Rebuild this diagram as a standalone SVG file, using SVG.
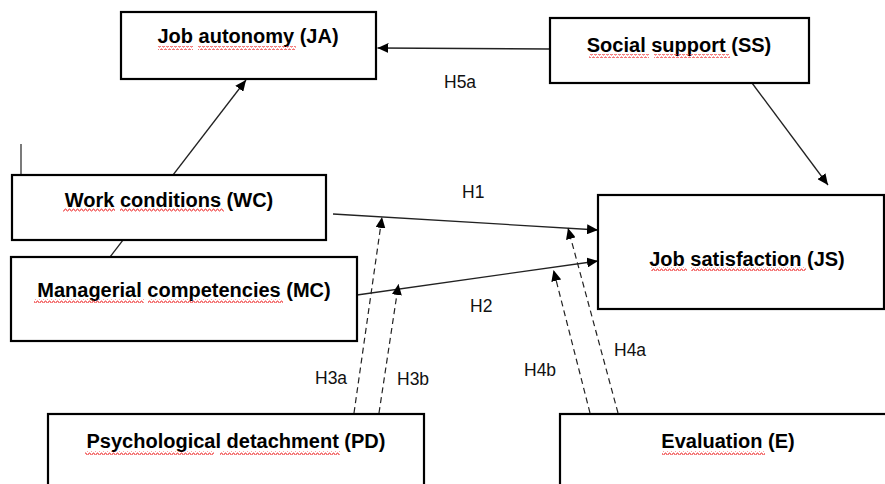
<svg xmlns="http://www.w3.org/2000/svg" width="885" height="484" viewBox="0 0 885 484">
<style>
.box{fill:#fff;stroke:#000;stroke-width:2.2}
.t{font-family:"Liberation Sans",Arial,sans-serif;font-weight:bold;font-size:20px;fill:#000;text-anchor:middle}
.lbl{font-family:"Liberation Sans",Arial,sans-serif;font-size:17.5px;fill:#111}
.c{stroke:#222;stroke-width:1.3;fill:none;marker-end:url(#ah)}
.d{stroke:#222;stroke-width:1.2;fill:none;stroke-dasharray:6,4;marker-end:url(#ah)}
.sq{fill:url(#wavy)}
</style>
<defs>
<marker id="ah" markerUnits="userSpaceOnUse" markerWidth="12" markerHeight="10" refX="11" refY="5" orient="auto">
<path d="M0,0 L11,5 L0,10 z" fill="#000"/>
</marker>
<pattern id="wavy" width="4" height="4" patternUnits="userSpaceOnUse">
<path d="M0,3 L1,1 L2,1 L3,3 L4,3" stroke="#e33" stroke-width="0.9" fill="none"/>
</pattern>
</defs>
<g id="connectors">
<line x1="21" y1="144" x2="21" y2="176" stroke="#222" stroke-width="1.2"/>
<line class="c" x1="110" y1="257" x2="246" y2="80"/>
<line class="c" x1="550" y1="49" x2="377.5" y2="48"/>
<line class="c" x1="752" y1="83" x2="828" y2="185"/>
<line class="c" x1="333" y1="214" x2="598" y2="230"/>
<line class="c" x1="357" y1="295" x2="598" y2="261"/>
<line class="d" x1="354" y1="413" x2="382" y2="217"/>
<line class="d" x1="379" y1="413" x2="398.5" y2="284"/>
<line class="d" x1="618" y1="413" x2="568" y2="228"/>
<line class="d" x1="590" y1="413" x2="553.5" y2="270"/>
<text class="lbl" x="444" y="88">H5a</text>
<text class="lbl" x="462" y="198">H1</text>
<text class="lbl" x="470" y="312">H2</text>
<text class="lbl" x="315" y="384">H3a</text>
<text class="lbl" x="397" y="385">H3b</text>
<text class="lbl" x="524" y="376">H4b</text>
<text class="lbl" x="614" y="356">H4a</text>
</g>
<g id="JA">
<rect class="box" x="121" y="12" width="255" height="67"/>
<text class="t" x="248" y="43">Job autonomy (JA)</text>
<rect class="sq" x="158" y="46" width="35" height="4"/>
<rect class="sq" x="198" y="46" width="98" height="4"/>
</g>
<g id="SS">
<rect class="box" x="550" y="18" width="259" height="65"/>
<text class="t" x="679" y="52">Social support (SS)</text>
<rect class="sq" x="589" y="54" width="60" height="4"/>
<rect class="sq" x="654" y="54" width="76" height="4"/>
</g>
<g id="WC">
<rect class="box" x="12" y="175" width="314" height="65"/>
<text class="t" x="169" y="207">Work conditions (WC)</text>
<rect class="sq" x="63" y="208" width="52" height="4"/>
<rect class="sq" x="120" y="208" width="104" height="4"/>
</g>
<g id="MC">
<rect class="box" x="11" y="257" width="346" height="84"/>
<text class="t" x="184" y="297">Managerial competencies (MC)</text>
<rect class="sq" x="34" y="299" width="110" height="4"/>
<rect class="sq" x="148" y="299" width="135" height="4"/>
</g>
<g id="JS">
<rect class="box" x="598" y="195" width="286" height="114"/>
<text class="t" x="747" y="266">Job satisfaction (JS)</text>
<rect class="sq" x="651" y="267" width="36" height="4"/>
<rect class="sq" x="691" y="267" width="115" height="4"/>
</g>
<g id="PD">
<rect class="box" x="48" y="414" width="376" height="80"/>
<text class="t" x="236" y="448">Psychological detachment (PD)</text>
<rect class="sq" x="85" y="451" width="129" height="4"/>
<rect class="sq" x="220" y="451" width="120" height="4"/>
</g>
<g id="E">
<rect class="box" x="560" y="414" width="340" height="80"/>
<text class="t" x="728" y="448">Evaluation (E)</text>
<rect class="sq" x="662" y="451" width="103" height="4"/>
</g>
</svg>
